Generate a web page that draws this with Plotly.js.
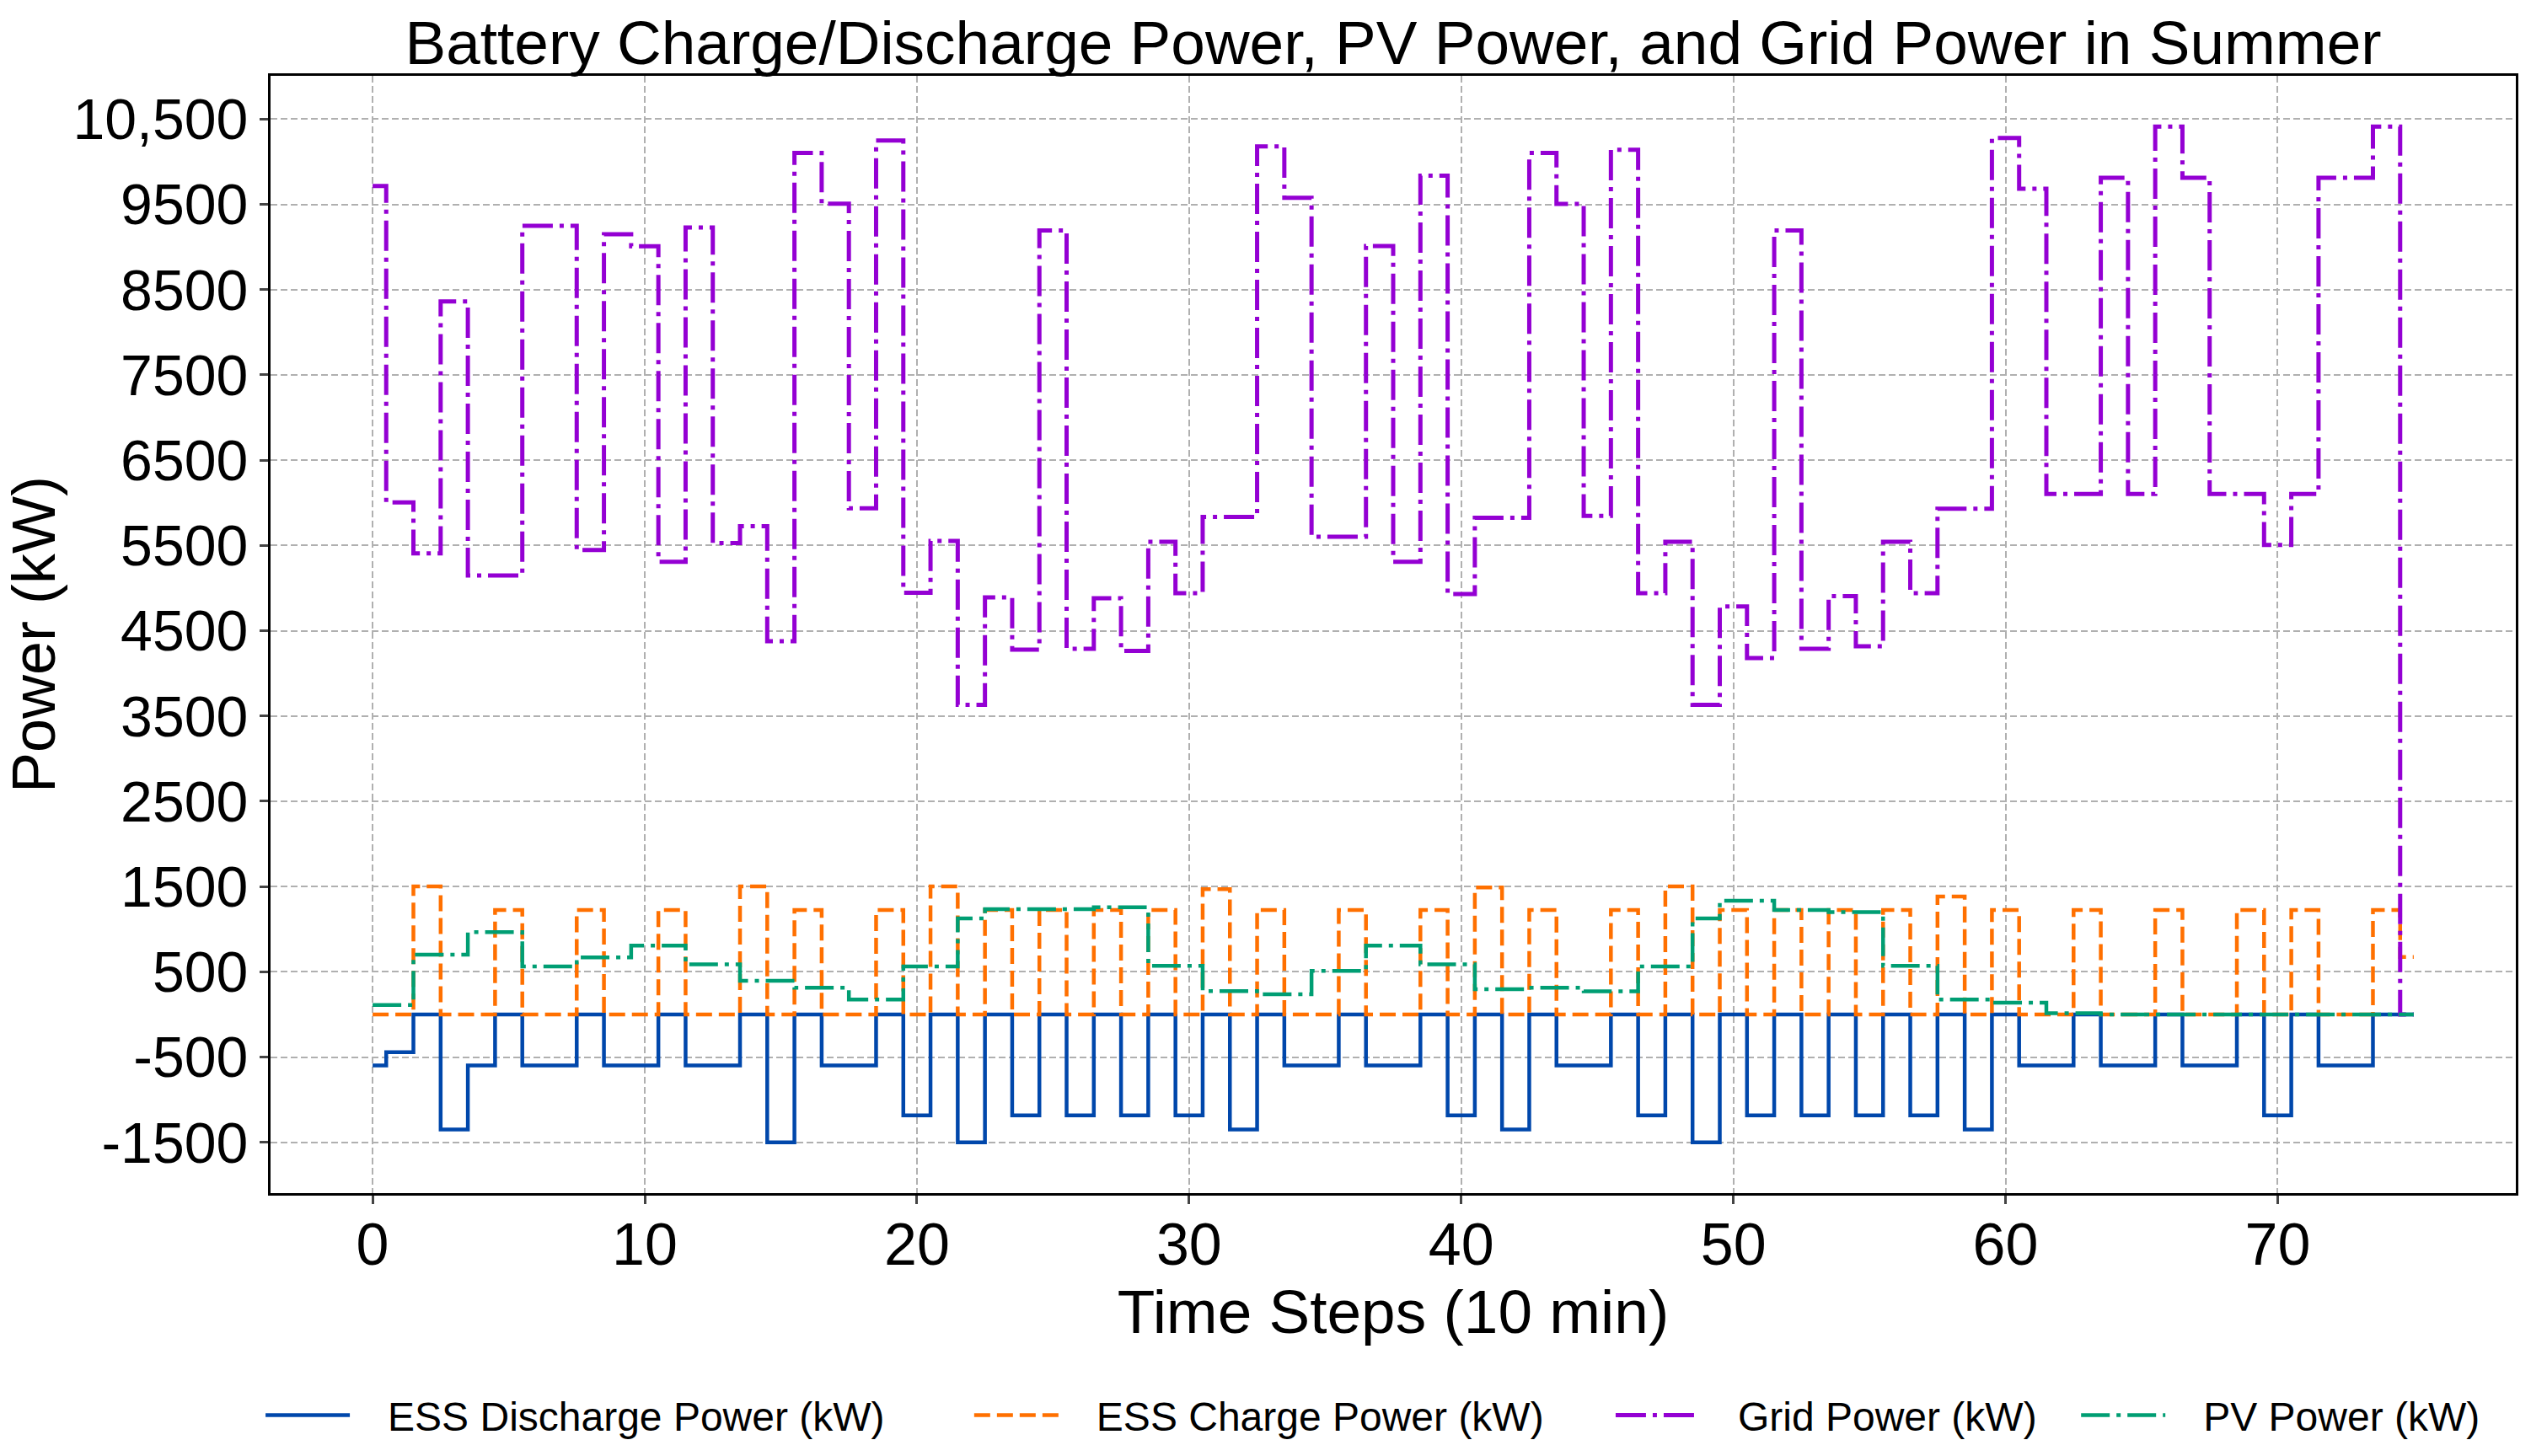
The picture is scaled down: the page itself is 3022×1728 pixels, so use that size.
<!DOCTYPE html>
<html>
<head>
<meta charset="utf-8">
<script src="https://cdn.plot.ly/plotly-3.0.1.min.js"></script>
<style>html,body{margin:0;padding:0;background:#fff;}#chart{width:3022px;height:1728px;}</style>
</head>
<body>
<div id="chart"></div>
<script>
// Time steps (10 min)
const timeSteps = Array.from({length: 76}, (_, i) => i);

const essDischarge = [
  -600, -444, 0, -1349, -600, 0, -600, -600, 0, -600,
  -600, 0, -600, -600, 0, -1500, 0, -600, -600, 0,
  -1184, 0, -1500, 0, -1184, 0, -1184, 0, -1184, 0,
  -1184, 0, -1349, 0, -600, -600, 0, -600, -600, 0,
  -1184, 0, -1349, 0, -600, -600, 0, -1184, 0, -1500,
  0, -1184, 0, -1184, 0, -1184, 0, -1184, 0, -1349,
  0, -600, -600, 0, -600, -600, 0, -600, -600, 0,
  -1184, 0, -600, -600, 0, 0
];

const essCharge = [
  0, 0, 1500, 0, 0, 1225, 0, 0, 1225, 0,
  0, 1225, 0, 0, 1500, 0, 1225, 0, 0, 1225,
  0, 1500, 0, 1225, 0, 1225, 0, 1225, 0, 1225,
  0, 1470, 0, 1225, 0, 0, 1225, 0, 0, 1225,
  0, 1490, 0, 1225, 0, 0, 1225, 0, 1500, 0,
  1225, 0, 1225, 0, 1225, 0, 1225, 0, 1382, 0,
  1225, 0, 0, 1225, 0, 0, 1225, 0, 0, 1225,
  0, 1225, 0, 0, 1225, 674
];

const gridPower = [
  9715, 6005, 5407, 8361, 5147, 5147, 9249, 9249, 5446, 9150,
  9010, 5309, 9229, 5529, 5726, 4376, 10103, 9509, 5937, 10250,
  4946, 5554, 3630, 4892, 4278, 9195, 4288, 4882, 4264, 5544,
  4941, 5834, 5834, 10181, 9578, 5603, 5603, 9013, 5309, 9838,
  4931, 5824, 5824, 10103, 9505, 5848, 10142, 4941, 5544, 3630,
  4784, 4180, 9195, 4288, 4906, 4317, 5544, 4941, 5932, 5932,
  10279, 9685, 6104, 6104, 9813, 6104, 10412, 9813, 6104, 6104,
  5505, 6104, 9813, 9813, 10412, 0
];

const pvPower = [
  110, 110, 700, 700, 965, 965, 562, 562, 668, 668,
  806, 806, 586, 586, 395, 395, 312, 312, 174, 174,
  562, 562, 1125, 1234, 1234, 1234, 1234, 1257, 1257, 569,
  569, 273, 273, 237, 237, 510, 510, 806, 806, 586,
  586, 296, 296, 312, 312, 270, 270, 562, 562, 1125,
  1332, 1332, 1224, 1224, 1200, 1200, 569, 569, 174, 174,
  138, 138, 15, 15, 0, 0, 0, 0, 0, 0,
  0, 0, 0, 0, 0, 0
];

const seriesNames = ['ESS Discharge Power (kW)', 'ESS Charge Power (kW)', 'Grid Power (kW)', 'PV Power (kW)'];
const xTickVals = [0, 10, 20, 30, 40, 50, 60, 70];
const yTickVals = [10500, 9500, 8500, 7500, 6500, 5500, 4500, 3500, 2500, 1500, 500, -500, -1500];
const yTickText = ['10,500', '9500', '8500', '7500', '6500', '5500', '4500', '3500', '2500', '1500', '500', '-500', '-1500'];

const FONT = 'Liberation Sans, Arial, sans-serif';
const PAD = '\u00a0\u00a0\u00a0';

const traces = [
  {x: timeSteps, y: essDischarge, name: PAD + seriesNames[0], mode: 'lines',
   line: {shape: 'hvh', color: '#0047AB', width: 4.5}, legend: 'legend'},
  {x: timeSteps, y: essCharge, name: PAD + seriesNames[1], mode: 'lines',
   line: {shape: 'hvh', color: '#FF7000', width: 4.5, dash: '19px,8px'}, legend: 'legend2'},
  {x: timeSteps, y: gridPower, name: PAD + seriesNames[2], mode: 'lines',
   line: {shape: 'hvh', color: '#9400D3', width: 5, dash: '36px,8px,5px,8px'}, legend: 'legend3'},
  {x: timeSteps, y: pvPower, name: PAD + seriesNames[3], mode: 'lines',
   line: {shape: 'hvh', color: '#009E73', width: 4.5, dash: '34px,8px,5px,8px'}, legend: 'legend4'}
];

const legBase = {
  orientation: 'h', y: -0.198, yanchor: 'middle', xanchor: 'left',
  font: {family: FONT, size: 48, color: '#000'}, bgcolor: 'rgba(0,0,0,0)',
  borderwidth: 0, itemwidth: 100
};

const layout = {
  width: 3022, height: 1728,
  margin: {l: 321, r: 37, t: 90, b: 311},
  paper_bgcolor: '#fff', plot_bgcolor: '#fff',
  font: {family: FONT, color: '#000'},
  title: {text: 'Battery Charge/Discharge Power, PV Power, and Grid Power in Summer',
          font: {family: FONT, size: 73, color: '#000'},
          x: 0.5, xref: 'paper', xanchor: 'center', y: 1 - 50/1728, yref: 'container', yanchor: 'middle'},
  xaxis: {
    range: [-3.75, 78.75], tickvals: xTickVals, ticks: 'outside', ticklen: 10, tickwidth: 3,
    tickfont: {family: FONT, size: 70, color: '#000'}, ticklabelstandoff: -12,
    showline: true, mirror: true, linecolor: '#000', linewidth: 3, zeroline: false,
    showgrid: true, gridcolor: '#b0b0b0', gridwidth: 2, griddash: '8px,4px',
    title: {text: 'Time Steps (10 min)', font: {family: FONT, size: 73, color: '#000'}, standoff: 0}
  },
  yaxis: {
    range: [-2096, 11008], tickvals: yTickVals, ticktext: yTickText, ticks: 'outside', ticklen: 10, tickwidth: 3,
    tickfont: {family: FONT, size: 68, color: '#000'},
    showline: true, mirror: true, linecolor: '#000', linewidth: 3, zeroline: false,
    showgrid: true, gridcolor: '#b0b0b0', gridwidth: 2, griddash: '8px,4px',
    title: {text: 'Power (kW)', font: {family: FONT, size: 72, color: '#000'}, standoff: 0}
  },
  legend: Object.assign({}, legBase, {x: -0.0041}),
  legend2: Object.assign({}, legBase, {x: 0.3115}),
  legend3: Object.assign({}, legBase, {x: 0.5972}),
  legend4: Object.assign({}, legBase, {x: 0.8045}),
  showlegend: true,
  hovermode: false
};

Plotly.newPlot('chart', traces, layout, {displayModeBar: false, staticPlot: true});
</script>
</body>
</html>
